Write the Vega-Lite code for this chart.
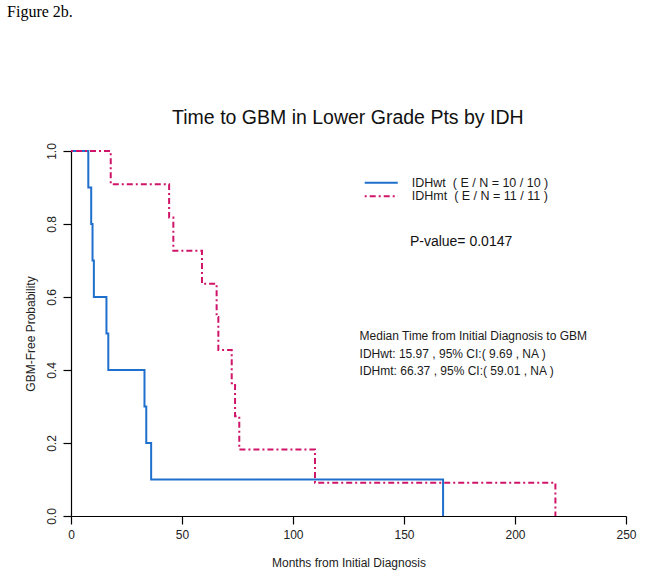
{
  "$schema": "https://vega.github.io/schema/vega-lite/v6.json",
  "autosize": {"type": "none"},
  "width": 555,
  "height": 365,
  "padding": {"left": 71, "top": 151, "right": 19, "bottom": 62},
  "background": "white",
  "config": {
    "view": {"stroke": null},
    "font": "Liberation Sans",
    "axis": {
      "grid": false,
      "domainColor": "#000000",
      "domainWidth": 1.2,
      "tickColor": "#000000",
      "tickWidth": 1.2,
      "tickSize": 8,
      "labelFont": "Liberation Sans",
      "labelFontSize": 12,
      "labelColor": "#222222",
      "titleFont": "Liberation Sans",
      "titleFontSize": 12,
      "titleFontWeight": "normal",
      "titleColor": "#222222"
    }
  },
  "datasets": {
    "km": [
      {"group": "IDHwt", "month": 0, "prob": 1.0},
      {"group": "IDHwt", "month": 7.8, "prob": 0.9},
      {"group": "IDHwt", "month": 9.1, "prob": 0.8},
      {"group": "IDHwt", "month": 9.7, "prob": 0.7},
      {"group": "IDHwt", "month": 10.3, "prob": 0.6},
      {"group": "IDHwt", "month": 15.97, "prob": 0.5},
      {"group": "IDHwt", "month": 16.8, "prob": 0.4},
      {"group": "IDHwt", "month": 33.1, "prob": 0.3},
      {"group": "IDHwt", "month": 33.9, "prob": 0.2},
      {"group": "IDHwt", "month": 36.1, "prob": 0.1},
      {"group": "IDHwt", "month": 167.6, "prob": 0.0},
      {"group": "IDHmt", "month": 0, "prob": 1.0},
      {"group": "IDHmt", "month": 17.9, "prob": 0.909},
      {"group": "IDHmt", "month": 44.2, "prob": 0.818},
      {"group": "IDHmt", "month": 46.1, "prob": 0.727},
      {"group": "IDHmt", "month": 59.0, "prob": 0.636},
      {"group": "IDHmt", "month": 65.6, "prob": 0.545},
      {"group": "IDHmt", "month": 66.37, "prob": 0.455},
      {"group": "IDHmt", "month": 72.4, "prob": 0.364},
      {"group": "IDHmt", "month": 73.9, "prob": 0.273},
      {"group": "IDHmt", "month": 75.8, "prob": 0.182},
      {"group": "IDHmt", "month": 109.9, "prob": 0.091},
      {"group": "IDHmt", "month": 218.2, "prob": 0.0}
    ],
    "legend": [
      {"group": "IDHwt", "month": 132.3, "month2": 147.2, "prob": 0.913, "label": "IDHwt\u00a0 ( E / N = 10 / 10 )"},
      {"group": "IDHmt", "month": 132.3, "month2": 147.2, "prob": 0.876, "label": "IDHmt\u00a0 ( E / N = 11 / 11 )"}
    ],
    "pval": [
      {"month": 175.7, "prob": 0.751, "label": "P-value= 0.0147"}
    ],
    "median": [
      {"month": 130.0, "prob": 0.493, "label": "Median Time from Initial Diagnosis to GBM"},
      {"month": 130.0, "prob": 0.445, "label": "IDHwt: 15.97 , 95% CI:( 9.69 , NA )"},
      {"month": 130.0, "prob": 0.397, "label": "IDHmt: 66.37 , 95% CI:( 59.01 , NA )"}
    ],
    "title": [
      {"month": 124.7, "prob": 1.073, "label": "Time to GBM in Lower Grade Pts by IDH"}
    ],
    "fig": [
      {"month": -28.8, "prob": 1.366, "label": "Figure 2b."}
    ]
  },
  "encoding": {
    "x": {
      "field": "month",
      "type": "quantitative",
      "scale": {"domain": [0, 250], "nice": false, "zero": false},
      "axis": {
        "title": "Months from Initial Diagnosis",
        "values": [0, 50, 100, 150, 200, 250],
        "labelPadding": 5,
        "titlePadding": 17,
        "labelFlush": false
      }
    },
    "y": {
      "field": "prob",
      "type": "quantitative",
      "scale": {"domain": [0, 1], "nice": false, "zero": false},
      "axis": {
        "title": "GBM-Free Probability",
        "values": [0, 0.2, 0.4, 0.6, 0.8, 1.0],
        "format": ".1f",
        "labelAngle": 270,
        "labelAlign": "center",
        "labelBaseline": "bottom",
        "labelPadding": 5,
        "titlePadding": 8,
        "labelFlush": false
      }
    }
  },
  "layer": [
    {
      "data": {"name": "km"},
      "mark": {"type": "line", "interpolate": "step-after", "strokeWidth": 2, "clip": false},
      "encoding": {
        "color": {
          "field": "group", "type": "nominal",
          "scale": {"domain": ["IDHwt", "IDHmt"], "range": ["#1f6fcc", "#d0146a"]},
          "legend": null
        },
        "strokeDash": {
          "field": "group", "type": "nominal",
          "scale": {"domain": ["IDHwt", "IDHmt"], "range": [[1, 0], [2, 3, 6, 3]]},
          "legend": null
        }
      }
    },
    {
      "data": {"name": "legend"},
      "mark": {"type": "rule", "strokeWidth": 2},
      "encoding": {
        "x2": {"field": "month2"},
        "color": {"field": "group", "type": "nominal", "legend": null},
        "strokeDash": {"field": "group", "type": "nominal", "legend": null}
      }
    },
    {
      "data": {"name": "legend"},
      "mark": {"type": "text", "align": "left", "baseline": "middle", "dx": 14, "fontSize": 12.5, "color": "#1a1a1a", "font": "Liberation Sans"},
      "encoding": {
        "x": {"field": "month2", "type": "quantitative"},
        "text": {"field": "label"}
      }
    },
    {
      "data": {"name": "pval"},
      "mark": {"type": "text", "align": "center", "baseline": "middle", "fontSize": 14, "color": "#111111", "font": "Liberation Sans"},
      "encoding": {"text": {"field": "label"}}
    },
    {
      "data": {"name": "median"},
      "mark": {"type": "text", "align": "left", "baseline": "middle", "fontSize": 12, "color": "#1a1a1a", "font": "Liberation Sans"},
      "encoding": {"text": {"field": "label"}}
    },
    {
      "data": {"name": "title"},
      "mark": {"type": "text", "align": "center", "baseline": "alphabetic", "fontSize": 19.5, "color": "#111111", "font": "Liberation Sans"},
      "encoding": {"text": {"field": "label"}}
    },
    {
      "data": {"name": "fig"},
      "mark": {"type": "text", "align": "left", "baseline": "alphabetic", "fontSize": 16, "color": "#000000", "font": "Liberation Serif"},
      "encoding": {"text": {"field": "label"}}
    }
  ]
}
